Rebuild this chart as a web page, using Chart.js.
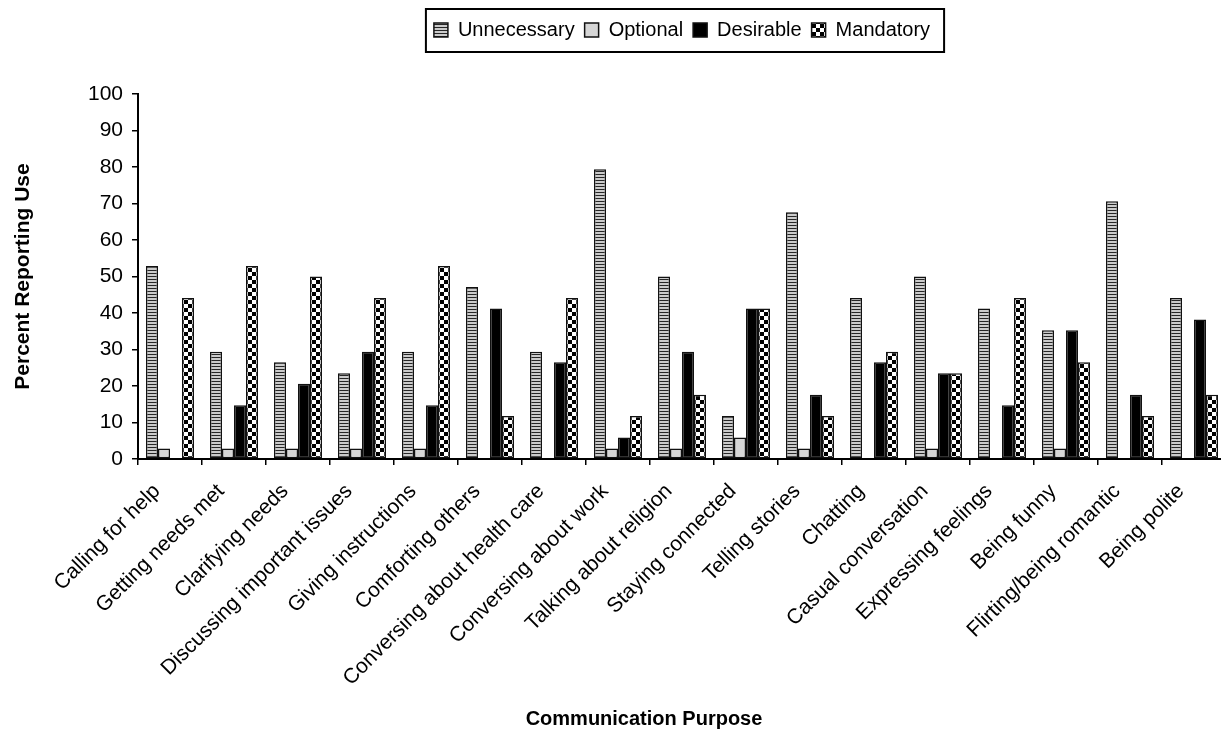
<!DOCTYPE html>
<html>
<head>
<meta charset="utf-8">
<title>Communication Purpose</title>
<style>
  html, body { margin: 0; padding: 0; background: #fff; overflow: hidden; }
  canvas { display: block; }
</style>
<script src="https://cdn.jsdelivr.net/npm/chart.js@4"></script>
</head>
<body>
<canvas id="chart" width="1228" height="734"></canvas>
<script>
// Purposes along the category axis
const categories = [
  'Calling for help', 'Getting needs met', 'Clarifying needs',
  'Discussing important issues', 'Giving instructions', 'Comforting others',
  'Conversing about health care', 'Conversing about work', 'Talking about religion',
  'Staying connected', 'Telling stories', 'Chatting', 'Casual conversation',
  'Expressing feelings', 'Being funny', 'Flirting/being romantic', 'Being polite'
];

// Percent of respondents giving each rating
const unnecessary = [52.9, 29.4, 26.5, 23.5, 29.4, 47.1, 29.4, 79.4, 50.0, 11.8, 67.6, 44.1, 50.0, 41.2, 35.3, 70.6, 44.1];
const optional    = [2.9, 2.9, 2.9, 2.9, 2.9, 0, 0, 2.9, 2.9, 5.9, 2.9, 0, 2.9, 0, 2.9, 0, 0];
const desirable   = [0, 14.7, 20.6, 29.4, 14.7, 41.2, 26.5, 5.9, 29.4, 41.2, 17.6, 26.5, 23.5, 14.7, 35.3, 17.6, 38.2];
const mandatory   = [44.1, 52.9, 50.0, 44.1, 52.9, 11.8, 44.1, 11.8, 17.6, 41.2, 11.8, 29.4, 23.5, 44.1, 26.5, 11.8, 17.6];

const seriesNames = ['Unnecessary', 'Optional', 'Desirable', 'Mandatory'];
const yTicks = [0, 10, 20, 30, 40, 50, 60, 70, 80, 90, 100];
const yTitle = 'Percent Reporting Use';
const xTitle = 'Communication Purpose';

const FONT = '"Liberation Sans", Arial, Helvetica, sans-serif';
Chart.defaults.font.family = FONT;
Chart.defaults.color = '#000';

const ctx = document.getElementById('chart').getContext('2d');

// Fill patterns for the hatched series
function makePattern(w, h, paint) {
  const c = document.createElement('canvas');
  c.width = w; c.height = h;
  paint(c.getContext('2d'));
  return ctx.createPattern(c, 'repeat');
}
const stripes = makePattern(4, 3, g => {
  g.fillStyle = '#cbcbcb'; g.fillRect(0, 0, 4, 3);
  g.fillStyle = '#262626'; g.fillRect(0, 0, 4, 1);
});
const checker = makePattern(8, 8, g => {
  g.fillStyle = '#000'; g.fillRect(0, 0, 8, 8);
  g.fillStyle = '#fff'; g.fillRect(0, 0, 4, 4); g.fillRect(4, 4, 4, 4);
});

const fills = [stripes, '#d6d6d6', '#000', checker];
const values = [unnecessary, optional, desirable, mandatory];

// Frame drawn around the legend entries
const legendFrame = {
  id: 'legendFrame',
  afterDraw(chart) {
    const lg = chart.legend;
    if (!lg || !lg.legendHitBoxes.length) return;
    const boxes = lg.legendHitBoxes;
    const left = Math.min(...boxes.map(b => b.left)) - 8;
    const right = Math.max(...boxes.map(b => b.left + b.width)) + 14;
    const c = chart.ctx;
    c.save();
    c.strokeStyle = '#000';
    c.lineWidth = 2;
    c.strokeRect(left, lg.top - 1, right - left, lg.bottom - lg.top + 3);
    c.restore();
  }
};

// Category-axis title, placed under the rotated labels
const bottomTitle = {
  id: 'bottomTitle',
  afterDraw(chart) {
    const c = chart.ctx;
    c.save();
    c.font = 'bold 20px ' + FONT;
    c.fillStyle = '#000';
    c.textAlign = 'center';
    c.textBaseline = 'middle';
    c.fillText(xTitle, 644, 719);
    c.restore();
  }
};

new Chart(ctx, {
  type: 'bar',
  data: {
    labels: categories,
    datasets: seriesNames.map((name, i) => ({
      label: name,
      data: values[i],
      backgroundColor: fills[i],
      borderColor: '#111',
      borderWidth: 1.5,
      borderSkipped: false,
      categoryPercentage: 0.75,
      barPercentage: 1.0
    }))
  },
  options: {
    responsive: false,
    animation: false,
    events: [],
    layout: { padding: { top: 10, left: 0, right: 2, bottom: 0 } },
    plugins: {
      tooltip: { enabled: false },
      legend: {
        position: 'top',
        fullSize: false,
        labels: {
          boxWidth: 14,
          boxHeight: 14,
          padding: 10,
          color: '#000',
          font: { size: 20 }
        }
      },
      // empty spacer between the legend and the plot
      title: {
        display: true,
        text: '',
        weight: 500,
        padding: 0,
        font: { size: 44, lineHeight: 1 }
      }
    },
    scales: {
      x: {
        grid: {
          display: true,
          offset: true,
          drawOnChartArea: false,
          drawTicks: true,
          tickLength: 6,
          color: '#000',
          lineWidth: 1.5
        },
        border: { display: true, color: '#000', width: 2 },
        ticks: {
          autoSkip: false,
          minRotation: 45,
          maxRotation: 45,
          padding: 14,
          labelOffset: -13,
          color: '#000',
          font: { size: 21 }
        },
        afterFit(scale) { scale.height = 275; }
      },
      y: {
        min: 0,
        max: 100,
        grid: {
          display: true,
          drawOnChartArea: false,
          drawTicks: true,
          tickLength: 6,
          color: '#000',
          lineWidth: 1.5
        },
        border: { display: true, color: '#000', width: 2 },
        afterBuildTicks(scale) { scale.ticks = yTicks.map(v => ({ value: v })); },
        ticks: {
          padding: 9,
          color: '#000',
          font: { size: 21 }
        },
        title: {
          display: true,
          text: yTitle,
          color: '#000',
          padding: { top: 11, bottom: 0 },
          font: { size: 21, weight: 'bold' }
        },
        afterFit(scale) { scale.width = 138; }
      }
    }
  },
  plugins: [legendFrame, bottomTitle]
});
</script>
</body>
</html>
